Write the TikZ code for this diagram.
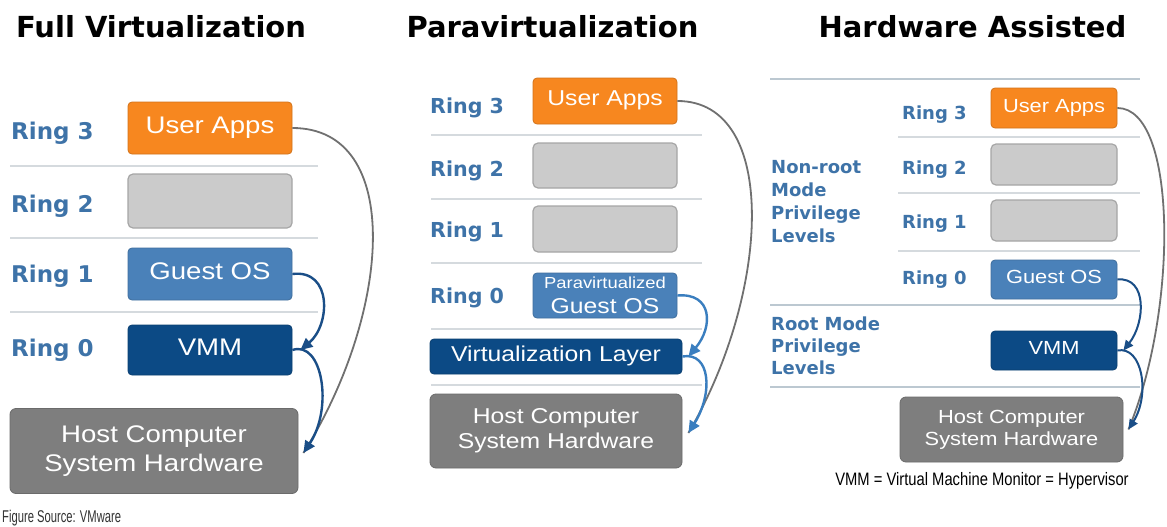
\documentclass[tikz,border=0pt]{standalone}
\usepackage{fontspec}
\setmainfont{Liberation Sans}[FakeStretch=1.15]
\newfontfamily\headfont{DejaVu Sans}
\newfontfamily\srcfont{Liberation Sans}[FakeStretch=0.66]
\newfontfamily\notefont{Liberation Sans}[FakeStretch=0.82]
\usetikzlibrary{arrows.meta}

\definecolor{ringblue}{HTML}{3E73A8}
\definecolor{appsorange}{HTML}{F7871F}
\definecolor{gboxfill}{HTML}{CBCBCB}
\definecolor{gboxedge}{HTML}{A6A6A6}
\definecolor{guestblue}{HTML}{4A81B9}
\definecolor{vmmnavy}{HTML}{0C4A85}
\definecolor{hostgray}{HTML}{7E7E7E}
\definecolor{sepgray}{HTML}{D5DADE}
\definecolor{modesep}{HTML}{BCC8D1}
\definecolor{arrnavy}{HTML}{1A4E87}
\definecolor{arrblue}{HTML}{3A7EBF}
\definecolor{arrgray}{HTML}{707070}

\newcommand\setfs[2]{\fontsize{#1}{#2}\selectfont}

\begin{document}
\begin{tikzpicture}[x=1pt,y=-1pt,
    every node/.style={inner sep=0pt},
    title/.style={font=\headfont\bfseries\setfs{29}{34}, anchor=base},
    ringlbl/.style={text=ringblue, anchor=base west},
    box/.style={rounded corners=4, text=white, align=center},
    sizeA/.style={font=\setfs{24}{29}, text height=17.5, text depth=6.5},
    sizeB/.style={font=\setfs{21.5}{25}, text height=15.6, text depth=5.8},
    sizeC/.style={font=\setfs{19}{22}, text height=13.8, text depth=5},
    appsbox/.style={box, fill=appsorange, draw=appsorange!85!black, line width=0.8},
    guestbox/.style={box, fill=guestblue, draw=guestblue!85!black, line width=0.8},
    vmmbox/.style={box, fill=vmmnavy, draw=vmmnavy!85!black, line width=0.8},
    emptybox/.style={rounded corners=5, fill=gboxfill, draw=gboxedge, line width=1.2},
    hostbox/.style={rounded corners=6, fill=hostgray, draw=hostgray!85!black, line width=0.8, text=white, align=center},
    sep/.style={draw=sepgray, line width=1.8},
    modeline/.style={draw=modesep, line width=2.6},
    hop/.style={line width=2.4, -{Triangle[length=12,width=11]}},
    trap/.style={draw=arrgray, line width=1.8}]

  \fill[white] (0,0) rectangle (1167,527);
  \useasboundingbox (0,0) rectangle (1167,527);

  % full virtualization
  \node[title] (t1) at (161,38) {Full Virtualization};
  \draw[sep] (10,166) -- (318,166);
  \draw[sep] (10,238) -- (318,238);
  \draw[sep] (10,312) -- (318,312);
  \node[ringlbl, font=\headfont\bfseries\setfs{23}{27}] (r13) at (11,139) {Ring 3};
  \node[ringlbl, font=\headfont\bfseries\setfs{23}{27}] (r12) at (11,212) {Ring 2};
  \node[ringlbl, font=\headfont\bfseries\setfs{23}{27}] (r11) at (11,282) {Ring 1};
  \node[ringlbl, font=\headfont\bfseries\setfs{23}{27}] (r10) at (11,356) {Ring 0};
  \node[appsbox, sizeA, minimum width=164, minimum height=52] (ua1) at (210,128) {User Apps};
  \node[emptybox, minimum width=164, minimum height=54] (e12) at (210,201) {};
  \node[guestbox, sizeA, minimum width=164, minimum height=52] (go1) at (210,274) {Guest OS};
  \node[vmmbox, sizeA, minimum width=164, minimum height=50] (vm1) at (210,350) {VMM};
  \node[hostbox, minimum width=288, minimum height=85, font=\setfs{24}{29}] (hw1) at (154,451) {Host Computer\\System Hardware};
  \coordinate (v1tip) at ([xshift=8]vm1.east);
  \coordinate (h1tip) at ([xshift=5,yshift=-2]hw1.east);
  \draw[trap] (ua1.east) .. controls +(112,0) and +(88,-140) .. (h1tip);
  \draw[hop, arrnavy] (go1.east) .. controls +(40,-5) and +(30,-25) .. (v1tip);
  \draw[hop, arrnavy] (vm1.east) .. controls +(30,-10) and +(30,-45) .. (h1tip);
  \node[font=\srcfont\setfs{17}{20}, text=black!80, anchor=base west] (src) at (2,522) {Figure Source: VMware};

  % paravirtualization
  \node[title] (t2) at (552.5,38) {Paravirtualization};
  \draw[sep] (431,135) -- (702,135);
  \draw[sep] (431,199) -- (702,199);
  \draw[sep] (431,263) -- (702,263);
  \draw[sep] (431,329) -- (702,329);
  \draw[sep] (431,385) -- (702,385);
  \node[ringlbl, font=\headfont\bfseries\setfs{20.6}{24}] (r23) at (430,113) {Ring 3};
  \node[ringlbl, font=\headfont\bfseries\setfs{20.6}{24}] (r22) at (430,176) {Ring 2};
  \node[ringlbl, font=\headfont\bfseries\setfs{20.6}{24}] (r21) at (430,237) {Ring 1};
  \node[ringlbl, font=\headfont\bfseries\setfs{20.6}{24}] (r20) at (430,303) {Ring 0};
  \node[appsbox, sizeB, minimum width=144, minimum height=46] (ua2) at (605,101) {User Apps};
  \node[emptybox, minimum width=144, minimum height=45] (e22) at (605,165.5) {};
  \node[emptybox, minimum width=144, minimum height=46] (e21) at (605,229) {};
  \node[guestbox, minimum width=144, minimum height=45, font=\setfs{21.5}{25}] (go2) at (605,295.5) {{\setfs{16}{19}Paravirtualized}\\Guest OS};
  \node[vmmbox, sizeB, minimum width=252, minimum height=35] (vl2) at (556,356.5) {Virtualization Layer};
  \node[hostbox, minimum width=252, minimum height=74, font=\setfs{21.5}{25}] (hw2) at (556,431) {Host Computer\\System Hardware};
  \coordinate (v2tip) at ([xshift=6]vl2.east);
  \coordinate (h2tip) at ([xshift=6,yshift=-2]hw2.east);
  \draw[trap] (ua2.east) .. controls +(102,0) and +(82,-140) .. (h2tip);
  \draw[hop, arrblue] (go2.east) .. controls +(35,-3) and +(25,-30) .. (v2tip);
  \draw[hop, arrblue] (vl2.east) .. controls +(28,-5) and +(25,-40) .. (h2tip);

  % hardware assisted
  \node[title] (t3) at (972.5,38) {Hardware Assisted};
  \draw[modeline] (770,79) -- (1140,79);
  \draw[sep] (898,137) -- (1140,137);
  \draw[sep] (898,193) -- (1140,193);
  \draw[sep] (898,251) -- (1140,251);
  \draw[modeline] (770,305) -- (1140,305);
  \draw[modeline] (770,387) -- (1140,387);
  \node[ringlbl, font=\headfont\bfseries\setfs{18}{22}] (r33) at (902,119) {Ring 3};
  \node[ringlbl, font=\headfont\bfseries\setfs{18}{22}] (r32) at (902,174) {Ring 2};
  \node[ringlbl, font=\headfont\bfseries\setfs{18}{22}] (r31) at (902,228) {Ring 1};
  \node[ringlbl, font=\headfont\bfseries\setfs{18}{22}] (r30) at (902,284) {Ring 0};
  \node[text=ringblue, anchor=north west, align=left, font=\headfont\bfseries\setfs{18}{23}] (nonroot) at (771,160.5) {Non-root\\Mode\\Privilege\\Levels};
  \node[text=ringblue, anchor=north west, align=left, font=\headfont\bfseries\setfs{18}{22}] (root) at (771,316.5) {Root Mode\\Privilege\\Levels};
  \node[appsbox, sizeC, minimum width=126, minimum height=40] (ua3) at (1054,108) {User Apps};
  \node[emptybox, minimum width=126, minimum height=41] (e32) at (1054,164.5) {};
  \node[emptybox, minimum width=126, minimum height=41] (e31) at (1054,220.5) {};
  \node[guestbox, sizeC, minimum width=126, minimum height=39] (go3) at (1054,279.5) {Guest OS};
  \node[vmmbox, sizeC, minimum width=126, minimum height=39] (vm3) at (1054,350.5) {VMM};
  \node[hostbox, minimum width=223, minimum height=65, font=\setfs{19}{22}] (hw3) at (1011.5,429.5) {Host Computer\\System Hardware};
  \coordinate (v3tip) at ([xshift=6]vm3.east);
  \coordinate (h3tip) at ([xshift=5]hw3.east);
  \draw[trap] (ua3.east) .. controls +(60,0) and +(50,-120) .. (h3tip);
  \draw[hop, arrnavy, line width=2, -{Triangle[length=10,width=9]}] (go3.east) .. controls +(30,-3) and +(22,-28) .. (v3tip);
  \draw[hop, arrnavy, line width=2, -{Triangle[length=10,width=9]}] (vm3.east) .. controls +(25,-5) and +(22,-35) .. (h3tip);
  \node[font=\notefont\setfs{18}{21}, anchor=base] (note) at (982,485) {VMM = Virtual Machine Monitor = Hypervisor};
\end{tikzpicture}
\end{document}
